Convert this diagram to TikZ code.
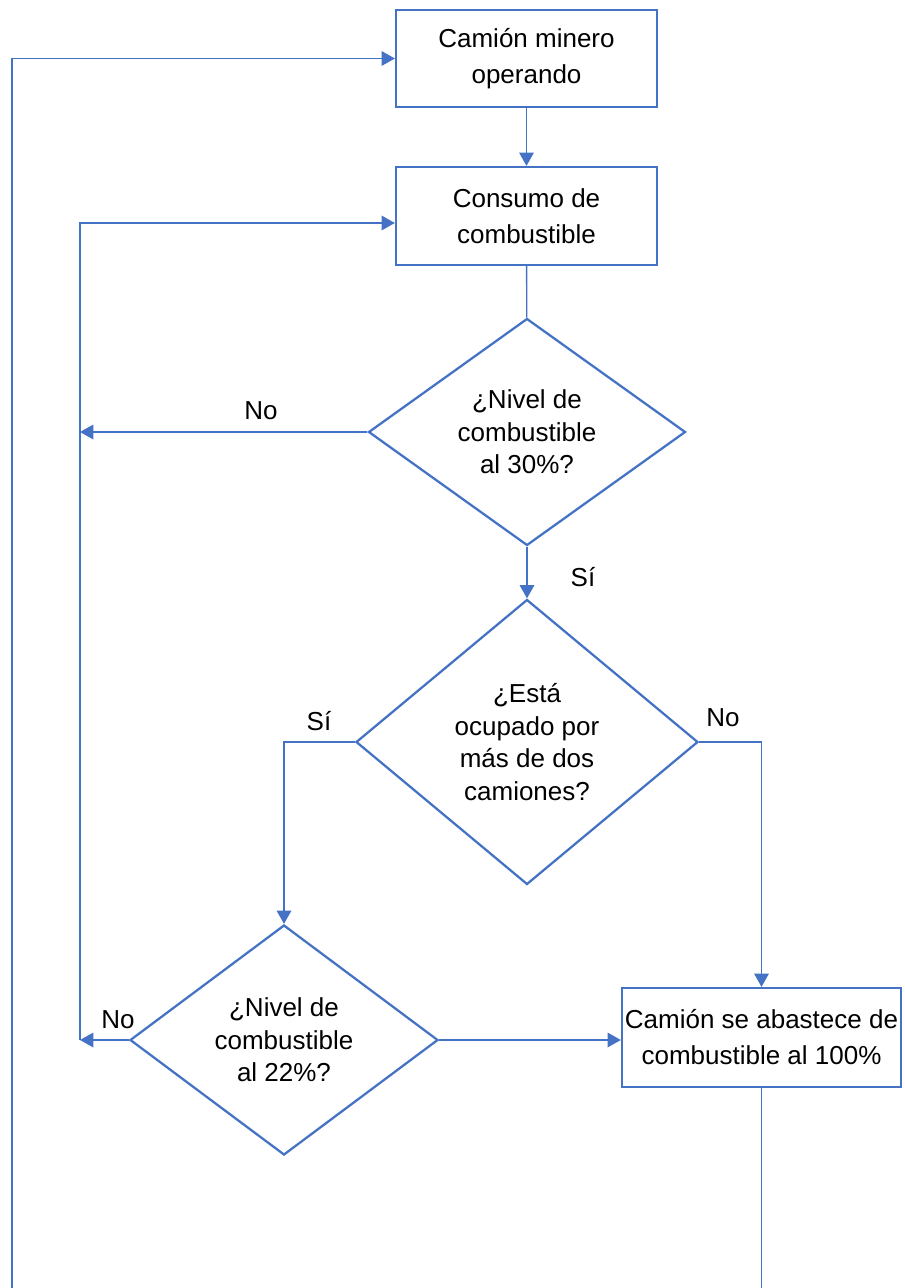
\documentclass[tikz,border=0pt]{standalone}
\usepackage{fontspec}
\setmainfont{Liberation Sans}
\usetikzlibrary{arrows.meta, shapes.geometric}

\definecolor{flowblue}{HTML}{4472C4}
\newcommand{\pxu}{0.75pt}

\tikzset{
	procbox/.style={draw=flowblue, line width=1.7pt, rectangle, inner sep=0pt, align=center,
		font=\fontsize{19.5}{27}\selectfont},
	askbox/.style={draw=flowblue, line width=1.7pt, diamond, inner sep=0pt, align=center,
		font=\fontsize{19.5}{24.5}\selectfont, execute at begin node={\rule{0pt}{20pt}}},
	flow/.style={draw=flowblue, line width=1pt, -{Triangle[length=10pt,width=11pt]}},
	link/.style={draw=flowblue, line width=1pt},
	lbl/.style={font=\fontsize{19.5}{24}\selectfont}
}

\begin{document}
\begin{tikzpicture}[x=\pxu, y=-\pxu]
	\useasboundingbox (0,0) rectangle (904,1288);

	\node[procbox, minimum width={261*\pxu}, minimum height={97*\pxu}] (truck) at (526.5,58.5) {Camión minero\\operando};
	\node[procbox, minimum width={261*\pxu}, minimum height={98*\pxu}] (fuel) at (526.5,216) {Consumo de\\combustible};
	\node[askbox, minimum width={317*\pxu}, minimum height={227*\pxu}] (lvlA) at (527,432) {¿Nivel de\\combustible\\al 30\%?};
	\node[askbox, minimum width={342*\pxu}, minimum height={285*\pxu}] (busy) at (527,742) {¿Está\\ocupado por\\más de dos\\camiones?};
	\node[askbox, minimum width={308*\pxu}, minimum height={230*\pxu}] (lvlB) at (284,1040) {¿Nivel de\\combustible\\al 22\%?};
	\node[procbox, minimum width={279*\pxu}, minimum height={99*\pxu}] (refill) at (761.5,1037.5) {Camión se abastece de\\combustible al 100\%};

	\coordinate (backA) at (80,432);
	\coordinate (backB) at (80,1040);
	\coordinate (backT) at (80,223);
	\coordinate (outer) at (12,1288);
	\coordinate (bottom) at (0,1288);

	\draw[flow] (truck) -- (fuel);
	\draw[link] (fuel) -- (lvlA);
	\draw[flow] (lvlA.west) -- (backA);
	\draw[flow] (lvlA) -- (busy);
	\draw[flow] (busy.west) -| (lvlB.north);
	\draw[flow] (busy.east) -| (refill.north);
	\draw[flow] (lvlB.west) -- (backB);
	\draw[flow] (lvlB.east) -- (lvlB.east -| refill.west);
	\draw[flow] (backB) -- (backT) -- (backT -| fuel.west);
	\draw[link] (refill.south) -- (refill.south |- bottom);
	\draw[flow] (outer) |- (truck.west);

	% labels
	\node[lbl] (noA) at (261,411) {No};
	\node[lbl] (siA) at (583,577) {Sí};
	\node[lbl] (siB) at (319,721) {Sí};
	\node[lbl] (noB) at (723,718) {No};
	\node[lbl] (noC) at (118,1020) {No};
\end{tikzpicture}
\end{document}
